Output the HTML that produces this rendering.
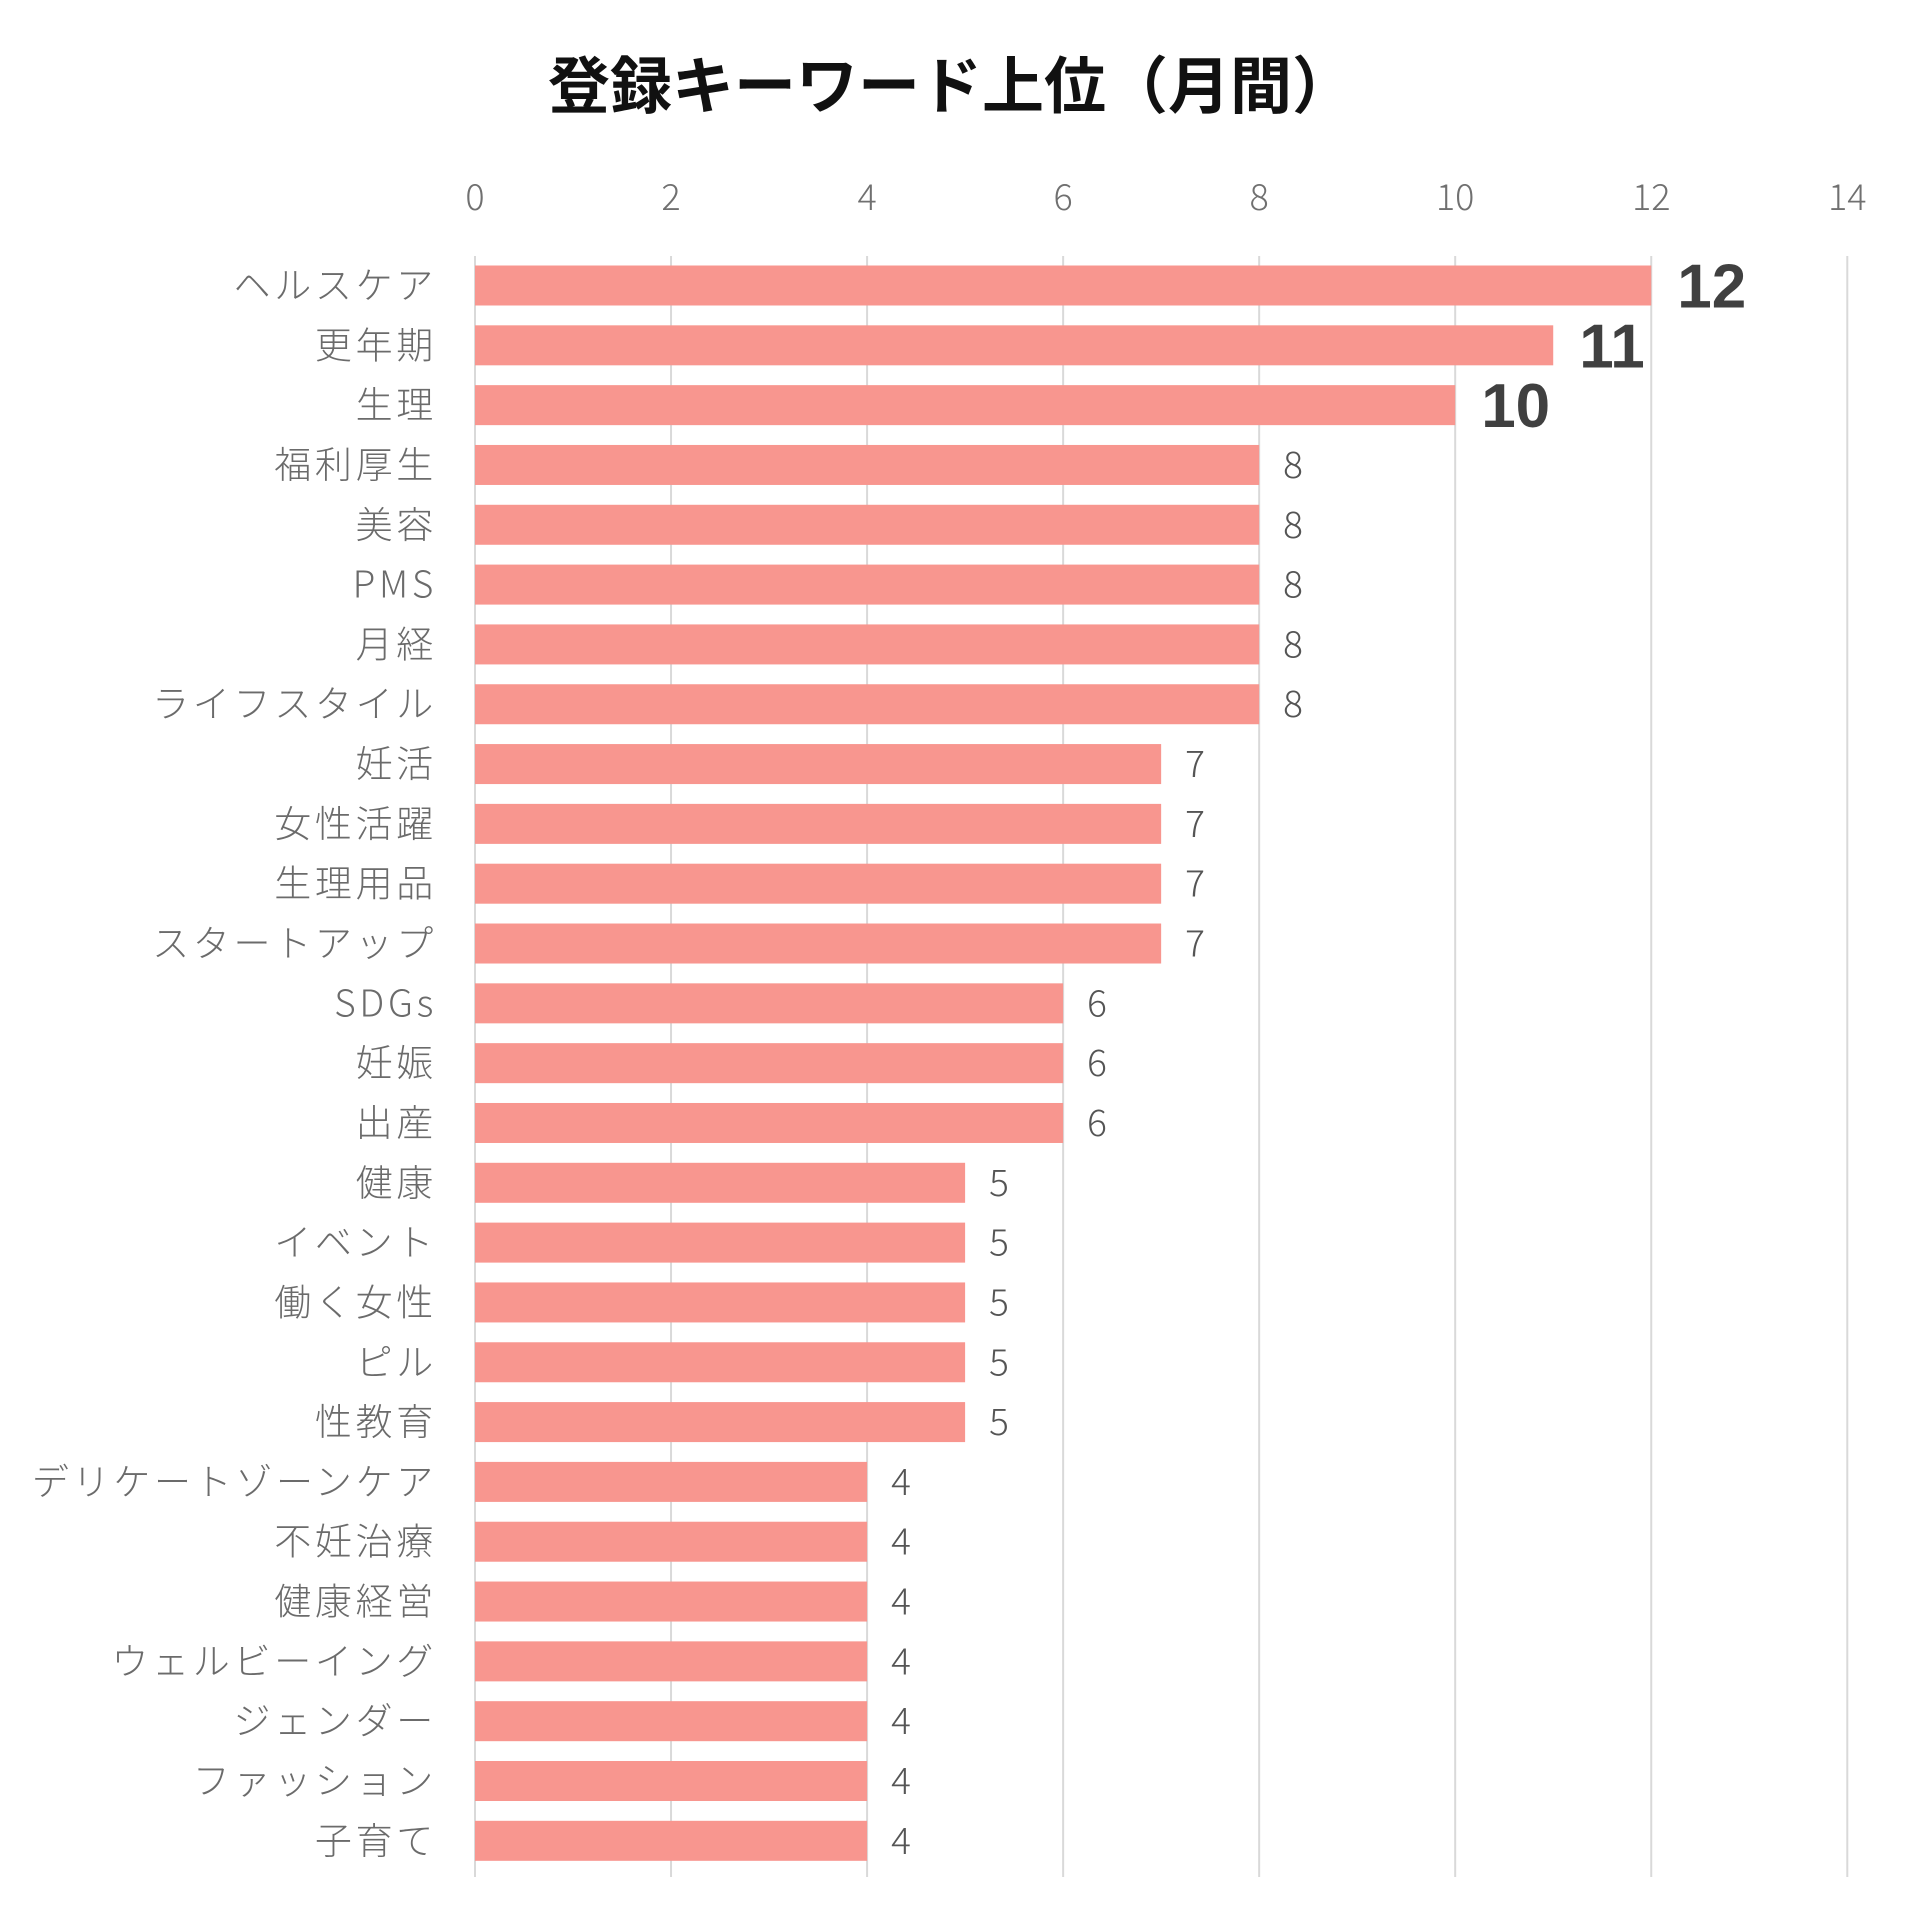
<!DOCTYPE html>
<html><head><meta charset="utf-8"><style>html,body{margin:0;padding:0;background:#fff}svg{display:block}</style></head>
<body>
<svg width="1920" height="1920" xmlns="http://www.w3.org/2000/svg" font-family="'Liberation Sans','Noto Sans CJK JP',sans-serif">
<rect width="1920" height="1920" fill="#fff"/>
<text x="951" y="108" text-anchor="middle" font-size="62" font-weight="bold" fill="#111" font-family="'Noto Sans CJK JP',sans-serif">登録キーワード上位（月間）</text>
<g id="grid" stroke="#d9d9d9" stroke-width="2"></g>
<g id="ticks" font-size="36" fill="#707070" font-weight="300" text-anchor="middle" font-family="'Noto Sans CJK JP',sans-serif"></g>
<g id="bars"></g>
<script>
var data=[["ヘルスケア",12],["更年期",11],["生理",10],["福利厚生",8],["美容",8],["PMS",8],["月経",8],["ライフスタイル",8],["妊活",7],["女性活躍",7],["生理用品",7],["スタートアップ",7],["SDGs",6],["妊娠",6],["出産",6],["健康",5],["イベント",5],["働く女性",5],["ピル",5],["性教育",5],["デリケートゾーンケア",4],["不妊治療",4],["健康経営",4],["ウェルビーイング",4],["ジェンダー",4],["ファッション",4],["子育て",4]];
var NS="http://www.w3.org/2000/svg",x0=475,u=98.02,y0=285.5,p=59.82,bh=40;
function el(t,a,par,txt){var e=document.createElementNS(NS,t);for(var k in a)e.setAttribute(k,a[k]);if(txt!=null)e.textContent=txt;par.appendChild(e);return e;}
var g=document.getElementById("grid"),tk=document.getElementById("ticks"),b=document.getElementById("bars");
for(var i=0;i<=14;i+=2){var x=x0+i*u;el("line",{x1:x,x2:x,y1:256,y2:1877},g);el("text",{x:x,y:210},tk,String(i));}
data.forEach(function(d,i){var cy=y0+i*p,w=d[1]*u;
el("rect",{x:x0,y:cy-bh/2,width:w,height:bh,fill:"#F8968F"},b);
el("text",{x:437,y:cy+13,"text-anchor":"end","font-size":"37","letter-spacing":"3.7","font-weight":"300",fill:"#6b6b6b","font-family":"'Noto Sans CJK JP',sans-serif"},b,d[0]);
if(i<3)el("text",{x:x0+w+26,y:cy+22,"font-size":"62","font-weight":"bold",fill:"#404040"},b,String(d[1]));
else el("text",{x:x0+w+24,y:cy+13,"font-size":"37","font-weight":"300",fill:"#555","font-family":"'Noto Sans CJK JP',sans-serif"},b,String(d[1]));
});
</script>
</svg>
</body></html>
